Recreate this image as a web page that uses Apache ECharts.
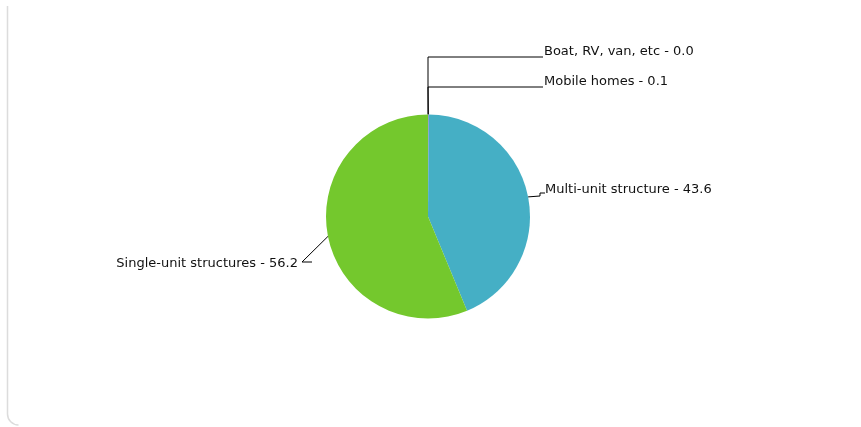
<!DOCTYPE html>
<html>
<head>
<meta charset="utf-8">
<script src="https://cdn.jsdelivr.net/npm/echarts@6/dist/echarts.min.js"></script>
<style>
html,body{margin:0;padding:0;background:#fff;}
#c{width:861px;height:427px;}
</style>
</head>
<body>
<div id="c"></div>
<script>
// Data
var categories = ['Boat, RV, van, etc', 'Mobile homes', 'Multi-unit structure', 'Single-unit structures'];
var values = [0.0, 0.1, 43.6, 56.2];
var colors = ['#e8a33a', '#9b59b6', '#45afc5', '#74c82d'];

// Label placement (style only): anchor point, alignment, and bend points for leader lines
var labelAnchors = [
  {x: 544, y: 58, align: 'left', bends: [[428, 57], [543, 57]]},
  {x: 544, y: 88, align: 'left', bends: [[428, 87], [543, 87]]},
  {x: 545, y: 196, align: 'left', bends: [[540, 196], [540, 193], [545, 193]]},
  {x: 298, y: 270, align: 'right', bends: [[302, 262], [312, 262]]}
];

var chart = echarts.init(document.getElementById('c'), null, {renderer: 'canvas'});
var data = categories.map(function (name, i) {
  return {name: name, value: values[i], itemStyle: {color: colors[i]}};
});

chart.setOption({
  animation: false,
  backgroundColor: '#ffffff',
  graphic: [{
    type: 'line',
    shape: {x1: 7.5, y1: 6, x2: 7.5, y2: 414},
    style: {stroke: '#dcdcdc', lineWidth: 1.5},
    silent: true
  }, {
    type: 'arc',
    shape: {cx: 18.5, cy: 414, r: 11, startAngle: Math.PI / 2, endAngle: Math.PI, clockwise: true},
    style: {stroke: '#dcdcdc', fill: null, lineWidth: 1.5},
    silent: true
  }],
  series: [{
    type: 'pie',
    center: [428, 216.5],
    radius: [0, 102],
    startAngle: 90,
    clockwise: true,
    minAngle: 0,
    avoidLabelOverlap: false,
    stillShowZeroSum: true,
    data: data,
    itemStyle: {borderWidth: 0},
    emphasis: {disabled: true},
    label: {
      show: true,
      formatter: function (p) { return p.name + ' - ' + p.value.toFixed(1); },
      fontFamily: 'DejaVu Sans',
      fontSize: 13,
      color: '#111'
    },
    labelLine: {
      show: true,
      lineStyle: {color: '#000', width: 1}
    },
    labelLayout: function (params) {
      var a = labelAnchors[params.dataIndex];
      var start = params.labelLinePoints ? params.labelLinePoints[0] : [428, 115];
      var pts = [start].concat(a.bends);
      return {
        x: a.x,
        y: a.y,
        align: a.align,
        verticalAlign: 'bottom',
        labelLinePoints: pts
      };
    }
  }]
});
</script>
</body>
</html>
